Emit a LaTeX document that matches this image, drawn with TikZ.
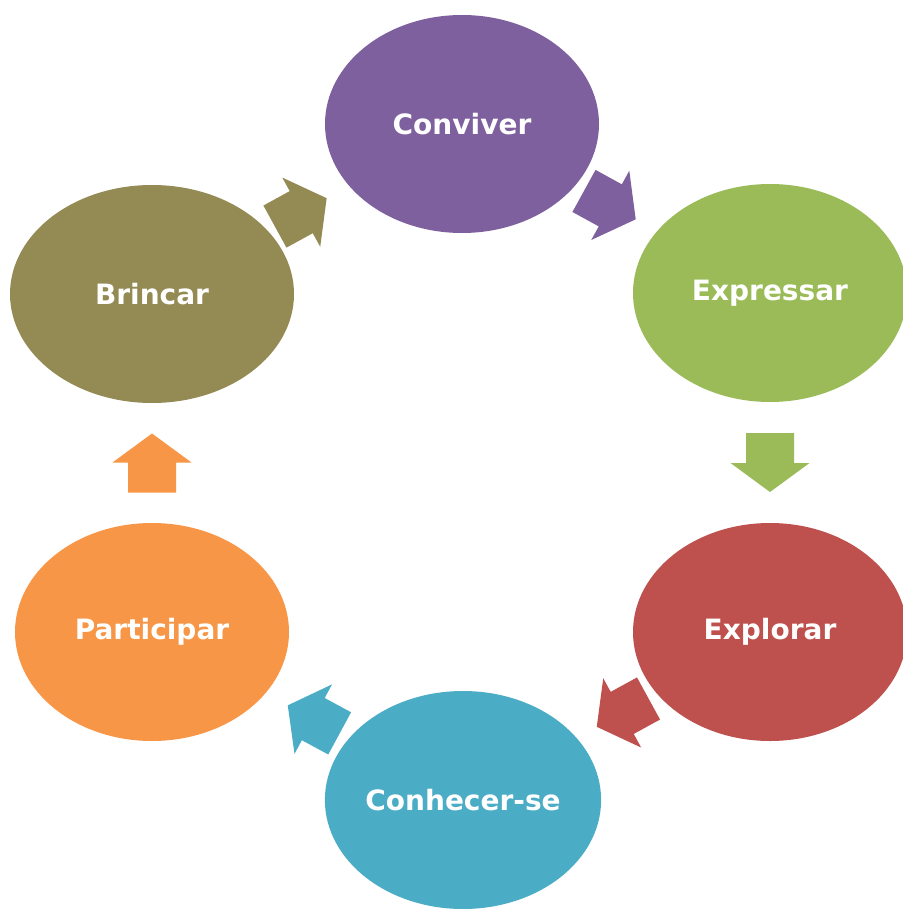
\documentclass[tikz,border=0pt]{standalone}
\usepackage{fontspec}
\setmainfont{DejaVu Sans}
\usetikzlibrary{shapes.geometric,calc}
\definecolor{cPurple}{HTML}{7F609E}
\definecolor{cGreen}{HTML}{9BBB59}
\definecolor{cRed}{HTML}{BE504D}
\definecolor{cTeal}{HTML}{4BACC6}
\definecolor{cOrange}{HTML}{F79646}
\definecolor{cOlive}{HTML}{948A54}
\tikzset{
  stage/.style={ellipse, fill=#1, draw=none, inner sep=0pt,
    minimum width=274pt, minimum height=218pt, text=white,
    font=\fontsize{28}{32}\selectfont\bfseries},
  pics/blockarrow/.style={code={
    \fill[#1] (-29.5,-24) -- (0.5,-24) -- (0.5,-39.5) -- (29.5,0)
      -- (0.5,39.5) -- (0.5,24) -- (-29.5,24) -- cycle;}}
}
\begin{document}
\begin{tikzpicture}[x=1pt,y=-1pt]
\useasboundingbox (0,0) rectangle (902,909);
\node[stage=cPurple] (conviver) at (462,124) {Conviver};
\node[stage=cGreen] (expressar) at (770,293) {Expressar};
\node[stage=cRed] (explorar) at (770,632) {Explorar};
\node[stage=cTeal] (conhecer) at (463,800) {Conhecer-se};
\node[stage=cOrange] (participar) at (152,632) {Participar};
\node[stage=cOlive, minimum width=284pt] (brincar) at (152,294) {Brincar};
% arrows
\path let \p1=($(conviver)-(brincar)$), \n1={atan2(\y1,\x1)} in
  pic[rotate=\n1] at ($(brincar)!0.48!(conviver)$) {blockarrow=cOlive};
\path let \p1=($(expressar)-(conviver)$), \n1={atan2(\y1,\x1)} in
  pic[rotate=\n1] at ($(conviver)!0.48!(expressar)$) {blockarrow=cPurple};
\path let \p1=($(explorar)-(expressar)$), \n1={atan2(\y1,\x1)} in
  pic[rotate=\n1] at ($(expressar)!0.5!(explorar)$) {blockarrow=cGreen};
\path let \p1=($(conhecer)-(explorar)$), \n1={atan2(\y1,\x1)} in
  pic[rotate=\n1] at ($(explorar)!0.48!(conhecer)$) {blockarrow=cRed};
\path let \p1=($(participar)-(conhecer)$), \n1={atan2(\y1,\x1)} in
  pic[rotate=\n1] at ($(conhecer)!0.48!(participar)$) {blockarrow=cTeal};
\path let \p1=($(brincar)-(participar)$), \n1={atan2(\y1,\x1)} in
  pic[rotate=\n1] at ($(participar)!0.5!(brincar)$) {blockarrow=cOrange};
\end{tikzpicture}
\end{document}
